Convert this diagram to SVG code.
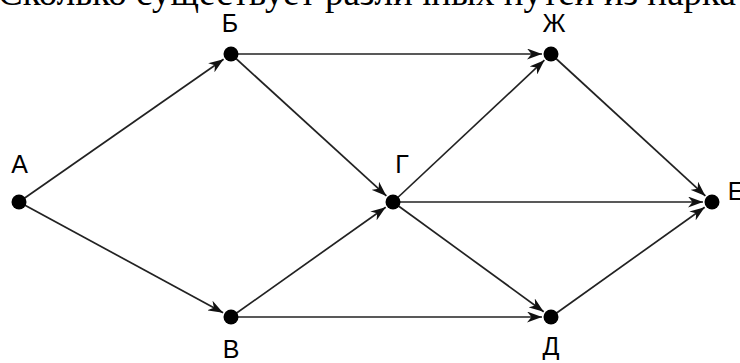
<svg xmlns="http://www.w3.org/2000/svg" width="740" height="363" viewBox="0 0 740 363">
<style>
.lbl{font-family:"Liberation Sans",Arial,sans-serif;font-size:25px;fill:#000;text-anchor:middle}
.dot{fill:#000}
.edge{stroke:#222;stroke-width:1.7;fill:none;marker-end:url(#arr)}
.title{font-family:"Liberation Serif","Times New Roman",serif;font-size:37px;fill:#000}
</style>
<defs>
<marker id="arr" markerUnits="userSpaceOnUse" markerWidth="15" markerHeight="11" refX="15" refY="5.5" orient="auto" viewBox="0 0 15 11">
<path d="M0,0 L15,5.5 L0,11 L4.5,5.5 Z" fill="#111"/>
</marker>
</defs>
<rect width="740" height="363" fill="#fff"/>
<text class="title" x="-2" y="5">Сколько существует различных путей из парка</text>
<g id="connectors">
<line class="edge" x1="19" y1="202" x2="223.6" y2="59.2"/>
<line class="edge" x1="19" y1="202" x2="223.1" y2="312.7"/>
<line class="edge" x1="231" y1="54" x2="542" y2="54"/>
<line class="edge" x1="231" y1="54" x2="386.4" y2="195.9"/>
<line class="edge" x1="231" y1="317" x2="385.7" y2="207.2"/>
<line class="edge" x1="231" y1="317" x2="542" y2="317"/>
<line class="edge" x1="393" y1="202" x2="544.4" y2="60.2"/>
<line class="edge" x1="393" y1="202" x2="703" y2="202"/>
<line class="edge" x1="393" y1="202" x2="543.7" y2="311.7"/>
<line class="edge" x1="551" y1="54" x2="705.4" y2="195.9"/>
<line class="edge" x1="551" y1="317" x2="704.7" y2="207.2"/>
</g>
<g id="node-A"><circle class="dot" cx="19" cy="202" r="7.5"/><text class="lbl" x="19.5" y="173">А</text></g>
<g id="node-B1"><circle class="dot" cx="231" cy="54" r="7.5"/><text class="lbl" x="230" y="32">Б</text></g>
<g id="node-Zh"><circle class="dot" cx="551" cy="54" r="7.5"/><text class="lbl" x="554" y="32">Ж</text></g>
<g id="node-G"><circle class="dot" cx="393" cy="202" r="7.5"/><text class="lbl" x="402" y="173">Г</text></g>
<g id="node-E"><circle class="dot" cx="712" cy="202" r="7.5"/><text class="lbl" x="736" y="200">Е</text></g>
<g id="node-V"><circle class="dot" cx="231" cy="317" r="7.5"/><text class="lbl" x="231" y="358">В</text></g>
<g id="node-D"><circle class="dot" cx="551" cy="317" r="7.5"/><text class="lbl" x="551" y="355">Д</text></g>
</svg>
